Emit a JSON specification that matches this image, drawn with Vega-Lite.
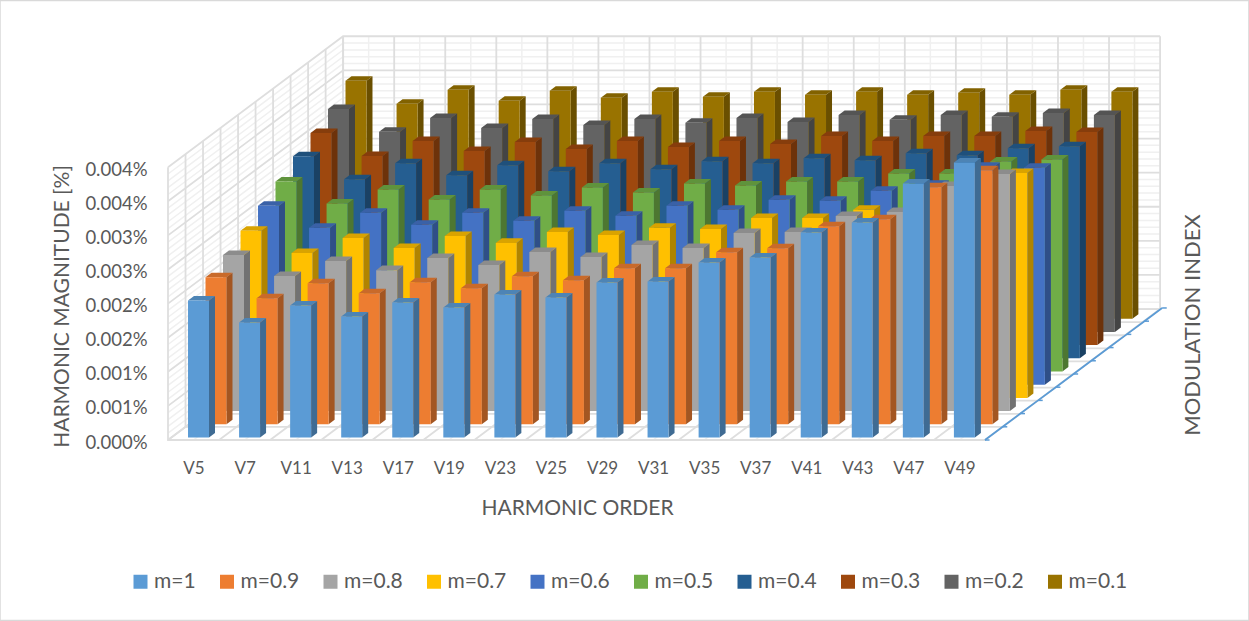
{"$schema":"https://vega.github.io/schema/vega-lite/v6.json","width":1000,"height":406,"autosize":{"type":"none"},"padding":{"left":168,"top":34,"right":81,"bottom":181},"background":"#ffffff","config":{"view":{"stroke":null},"font":"Lato"},
"datasets":{
"grid":[
{"family":"level","pos":0.0001,"weight":"minor"},{"family":"level","pos":0.0002,"weight":"minor"},{"family":"level","pos":0.0003,"weight":"minor"},{"family":"level","pos":0.0004,"weight":"minor"},{"family":"level","pos":0.0006,"weight":"minor"},{"family":"level","pos":0.0007,"weight":"minor"},{"family":"level","pos":0.0008,"weight":"minor"},{"family":"level","pos":0.0009,"weight":"minor"},{"family":"level","pos":0.0011,"weight":"minor"},{"family":"level","pos":0.0012,"weight":"minor"},{"family":"level","pos":0.0013,"weight":"minor"},{"family":"level","pos":0.0014,"weight":"minor"},{"family":"level","pos":0.0016,"weight":"minor"},{"family":"level","pos":0.0017,"weight":"minor"},{"family":"level","pos":0.0018,"weight":"minor"},{"family":"level","pos":0.0019,"weight":"minor"},{"family":"level","pos":0.0021,"weight":"minor"},{"family":"level","pos":0.0022,"weight":"minor"},{"family":"level","pos":0.0023,"weight":"minor"},{"family":"level","pos":0.0024,"weight":"minor"},{"family":"level","pos":0.0026,"weight":"minor"},{"family":"level","pos":0.0027,"weight":"minor"},{"family":"level","pos":0.0028,"weight":"minor"},{"family":"level","pos":0.0029,"weight":"minor"},{"family":"level","pos":0.0031,"weight":"minor"},{"family":"level","pos":0.0032,"weight":"minor"},{"family":"level","pos":0.0033,"weight":"minor"},{"family":"level","pos":0.0034,"weight":"minor"},{"family":"level","pos":0.0036,"weight":"minor"},{"family":"level","pos":0.0037,"weight":"minor"},{"family":"level","pos":0.0038,"weight":"minor"},{"family":"level","pos":0.0039,"weight":"minor"},
{"family":"slot","pos":0.5,"weight":"minor"},{"family":"slot","pos":1.5,"weight":"minor"},{"family":"slot","pos":2.5,"weight":"minor"},{"family":"slot","pos":3.5,"weight":"minor"},{"family":"slot","pos":4.5,"weight":"minor"},{"family":"slot","pos":5.5,"weight":"minor"},{"family":"slot","pos":6.5,"weight":"minor"},{"family":"slot","pos":7.5,"weight":"minor"},{"family":"slot","pos":8.5,"weight":"minor"},{"family":"slot","pos":9.5,"weight":"minor"},{"family":"slot","pos":10.5,"weight":"minor"},{"family":"slot","pos":11.5,"weight":"minor"},{"family":"slot","pos":12.5,"weight":"minor"},{"family":"slot","pos":13.5,"weight":"minor"},{"family":"slot","pos":14.5,"weight":"minor"},{"family":"slot","pos":15.5,"weight":"minor"},
{"family":"level","pos":0,"weight":"major"},{"family":"level","pos":0.0005,"weight":"major"},{"family":"level","pos":0.001,"weight":"major"},{"family":"level","pos":0.0015,"weight":"major"},{"family":"level","pos":0.002,"weight":"major"},{"family":"level","pos":0.0025,"weight":"major"},{"family":"level","pos":0.003,"weight":"major"},{"family":"level","pos":0.0035,"weight":"major"},{"family":"level","pos":0.004,"weight":"major"},
{"family":"slot","pos":0,"weight":"major"},{"family":"slot","pos":1,"weight":"major"},{"family":"slot","pos":2,"weight":"major"},{"family":"slot","pos":3,"weight":"major"},{"family":"slot","pos":4,"weight":"major"},{"family":"slot","pos":5,"weight":"major"},{"family":"slot","pos":6,"weight":"major"},{"family":"slot","pos":7,"weight":"major"},{"family":"slot","pos":8,"weight":"major"},{"family":"slot","pos":9,"weight":"major"},{"family":"slot","pos":10,"weight":"major"},{"family":"slot","pos":11,"weight":"major"},{"family":"slot","pos":12,"weight":"major"},{"family":"slot","pos":13,"weight":"major"},{"family":"slot","pos":14,"weight":"major"},{"family":"slot","pos":15,"weight":"major"},{"family":"slot","pos":16,"weight":"major"},
{"family":"depth","pos":0,"weight":"major"},{"family":"depth","pos":1,"weight":"major"},{"family":"depth","pos":2,"weight":"major"},{"family":"depth","pos":3,"weight":"major"},{"family":"depth","pos":4,"weight":"major"},{"family":"depth","pos":5,"weight":"major"},{"family":"depth","pos":6,"weight":"major"},{"family":"depth","pos":7,"weight":"major"},{"family":"depth","pos":8,"weight":"major"},{"family":"depth","pos":9,"weight":"major"},{"family":"depth","pos":10,"weight":"major"}],
"depths":[{"k":0},{"k":1},{"k":2},{"k":3},{"k":4},{"k":5},{"k":6},{"k":7},{"k":8},{"k":9},{"k":10}],
"bars":[
{"harmonic":"V5","series":"m=0.1","value":0.00349},{"harmonic":"V7","series":"m=0.1","value":0.003153},{"harmonic":"V11","series":"m=0.1","value":0.003358},{"harmonic":"V13","series":"m=0.1","value":0.003197},{"harmonic":"V17","series":"m=0.1","value":0.003343},{"harmonic":"V19","series":"m=0.1","value":0.003241},{"harmonic":"V23","series":"m=0.1","value":0.003329},{"harmonic":"V25","series":"m=0.1","value":0.003255},{"harmonic":"V29","series":"m=0.1","value":0.003329},{"harmonic":"V31","series":"m=0.1","value":0.003285},{"harmonic":"V35","series":"m=0.1","value":0.003329},{"harmonic":"V37","series":"m=0.1","value":0.003285},{"harmonic":"V41","series":"m=0.1","value":0.003314},{"harmonic":"V43","series":"m=0.1","value":0.003285},{"harmonic":"V47","series":"m=0.1","value":0.003358},{"harmonic":"V49","series":"m=0.1","value":0.003329},
{"harmonic":"V5","series":"m=0.2","value":0.00327},{"harmonic":"V7","series":"m=0.2","value":0.002933},{"harmonic":"V11","series":"m=0.2","value":0.003138},{"harmonic":"V13","series":"m=0.2","value":0.002991},{"harmonic":"V17","series":"m=0.2","value":0.003123},{"harmonic":"V19","series":"m=0.2","value":0.003035},{"harmonic":"V23","series":"m=0.2","value":0.003123},{"harmonic":"V25","series":"m=0.2","value":0.003065},{"harmonic":"V29","series":"m=0.2","value":0.003138},{"harmonic":"V31","series":"m=0.2","value":0.003079},{"harmonic":"V35","series":"m=0.2","value":0.003182},{"harmonic":"V37","series":"m=0.2","value":0.003109},{"harmonic":"V41","series":"m=0.2","value":0.003182},{"harmonic":"V43","series":"m=0.2","value":0.003153},{"harmonic":"V47","series":"m=0.2","value":0.003211},{"harmonic":"V49","series":"m=0.2","value":0.003182},
{"harmonic":"V5","series":"m=0.3","value":0.003109},{"harmonic":"V7","series":"m=0.3","value":0.002771},{"harmonic":"V11","series":"m=0.3","value":0.002991},{"harmonic":"V13","series":"m=0.3","value":0.002845},{"harmonic":"V17","series":"m=0.3","value":0.002977},{"harmonic":"V19","series":"m=0.3","value":0.002874},{"harmonic":"V23","series":"m=0.3","value":0.002991},{"harmonic":"V25","series":"m=0.3","value":0.002903},{"harmonic":"V29","series":"m=0.3","value":0.002991},{"harmonic":"V31","series":"m=0.3","value":0.002947},{"harmonic":"V35","series":"m=0.3","value":0.003065},{"harmonic":"V37","series":"m=0.3","value":0.002991},{"harmonic":"V41","series":"m=0.3","value":0.003065},{"harmonic":"V43","series":"m=0.3","value":0.003065},{"harmonic":"V47","series":"m=0.3","value":0.003138},{"harmonic":"V49","series":"m=0.3","value":0.003123},
{"harmonic":"V5","series":"m=0.4","value":0.002962},{"harmonic":"V7","series":"m=0.4","value":0.002625},{"harmonic":"V11","series":"m=0.4","value":0.002859},{"harmonic":"V13","series":"m=0.4","value":0.002683},{"harmonic":"V17","series":"m=0.4","value":0.00283},{"harmonic":"V19","series":"m=0.4","value":0.002742},{"harmonic":"V23","series":"m=0.4","value":0.002859},{"harmonic":"V25","series":"m=0.4","value":0.002771},{"harmonic":"V29","series":"m=0.4","value":0.002889},{"harmonic":"V31","series":"m=0.4","value":0.002859},{"harmonic":"V35","series":"m=0.4","value":0.002933},{"harmonic":"V37","series":"m=0.4","value":0.002903},{"harmonic":"V41","series":"m=0.4","value":0.003006},{"harmonic":"V43","series":"m=0.4","value":0.002977},{"harmonic":"V47","series":"m=0.4","value":0.003079},{"harmonic":"V49","series":"m=0.4","value":0.003109},
{"harmonic":"V5","series":"m=0.5","value":0.002786},{"harmonic":"V7","series":"m=0.5","value":0.002463},{"harmonic":"V11","series":"m=0.5","value":0.002669},{"harmonic":"V13","series":"m=0.5","value":0.002522},{"harmonic":"V17","series":"m=0.5","value":0.002669},{"harmonic":"V19","series":"m=0.5","value":0.002581},{"harmonic":"V23","series":"m=0.5","value":0.002698},{"harmonic":"V25","series":"m=0.5","value":0.002625},{"harmonic":"V29","series":"m=0.5","value":0.002757},{"harmonic":"V31","series":"m=0.5","value":0.002727},{"harmonic":"V35","series":"m=0.5","value":0.002786},{"harmonic":"V37","series":"m=0.5","value":0.002786},{"harmonic":"V41","series":"m=0.5","value":0.002903},{"harmonic":"V43","series":"m=0.5","value":0.002903},{"harmonic":"V47","series":"m=0.5","value":0.003079},{"harmonic":"V49","series":"m=0.5","value":0.003109},
{"harmonic":"V5","series":"m=0.6","value":0.002625},{"harmonic":"V7","series":"m=0.6","value":0.002302},{"harmonic":"V11","series":"m=0.6","value":0.002522},{"harmonic":"V13","series":"m=0.6","value":0.002346},{"harmonic":"V17","series":"m=0.6","value":0.002522},{"harmonic":"V19","series":"m=0.6","value":0.002405},{"harmonic":"V23","series":"m=0.6","value":0.002551},{"harmonic":"V25","series":"m=0.6","value":0.002478},{"harmonic":"V29","series":"m=0.6","value":0.002625},{"harmonic":"V31","series":"m=0.6","value":0.002566},{"harmonic":"V35","series":"m=0.6","value":0.002713},{"harmonic":"V37","series":"m=0.6","value":0.002698},{"harmonic":"V41","series":"m=0.6","value":0.002845},{"harmonic":"V43","series":"m=0.6","value":0.002933},{"harmonic":"V47","series":"m=0.6","value":0.003197},{"harmonic":"V49","series":"m=0.6","value":0.003182},
{"harmonic":"V5","series":"m=0.7","value":0.002449},{"harmonic":"V7","series":"m=0.7","value":0.002126},{"harmonic":"V11","series":"m=0.7","value":0.002346},{"harmonic":"V13","series":"m=0.7","value":0.002199},{"harmonic":"V17","series":"m=0.7","value":0.002375},{"harmonic":"V19","series":"m=0.7","value":0.002273},{"harmonic":"V23","series":"m=0.7","value":0.002434},{"harmonic":"V25","series":"m=0.7","value":0.00239},{"harmonic":"V29","series":"m=0.7","value":0.002493},{"harmonic":"V31","series":"m=0.7","value":0.002478},{"harmonic":"V35","series":"m=0.7","value":0.002639},{"harmonic":"V37","series":"m=0.7","value":0.002639},{"harmonic":"V41","series":"m=0.7","value":0.002757},{"harmonic":"V43","series":"m=0.7","value":0.002859},{"harmonic":"V47","series":"m=0.7","value":0.003255},{"harmonic":"V49","series":"m=0.7","value":0.003299},
{"harmonic":"V5","series":"m=0.8","value":0.002287},{"harmonic":"V7","series":"m=0.8","value":0.00198},{"harmonic":"V11","series":"m=0.8","value":0.002199},{"harmonic":"V13","series":"m=0.8","value":0.002067},{"harmonic":"V17","series":"m=0.8","value":0.002243},{"harmonic":"V19","series":"m=0.8","value":0.002141},{"harmonic":"V23","series":"m=0.8","value":0.002331},{"harmonic":"V25","series":"m=0.8","value":0.002258},{"harmonic":"V29","series":"m=0.8","value":0.002434},{"harmonic":"V31","series":"m=0.8","value":0.00239},{"harmonic":"V35","series":"m=0.8","value":0.00261},{"harmonic":"V37","series":"m=0.8","value":0.002625},{"harmonic":"V41","series":"m=0.8","value":0.002859},{"harmonic":"V43","series":"m=0.8","value":0.002918},{"harmonic":"V47","series":"m=0.8","value":0.003299},{"harmonic":"V49","series":"m=0.8","value":0.003475},
{"harmonic":"V5","series":"m=0.9","value":0.002155},{"harmonic":"V7","series":"m=0.9","value":0.001848},{"harmonic":"V11","series":"m=0.9","value":0.002067},{"harmonic":"V13","series":"m=0.9","value":0.001921},{"harmonic":"V17","series":"m=0.9","value":0.002082},{"harmonic":"V19","series":"m=0.9","value":0.001994},{"harmonic":"V23","series":"m=0.9","value":0.00217},{"harmonic":"V25","series":"m=0.9","value":0.002111},{"harmonic":"V29","series":"m=0.9","value":0.002287},{"harmonic":"V31","series":"m=0.9","value":0.002287},{"harmonic":"V35","series":"m=0.9","value":0.002522},{"harmonic":"V37","series":"m=0.9","value":0.002581},{"harmonic":"V41","series":"m=0.9","value":0.002903},{"harmonic":"V43","series":"m=0.9","value":0.003006},{"harmonic":"V47","series":"m=0.9","value":0.003475},{"harmonic":"V49","series":"m=0.9","value":0.003724},
{"harmonic":"V5","series":"m=1","value":0.002009},{"harmonic":"V7","series":"m=1","value":0.001686},{"harmonic":"V11","series":"m=1","value":0.001936},{"harmonic":"V13","series":"m=1","value":0.001774},{"harmonic":"V17","series":"m=1","value":0.00198},{"harmonic":"V19","series":"m=1","value":0.001906},{"harmonic":"V23","series":"m=1","value":0.002097},{"harmonic":"V25","series":"m=1","value":0.002053},{"harmonic":"V29","series":"m=1","value":0.002273},{"harmonic":"V31","series":"m=1","value":0.002287},{"harmonic":"V35","series":"m=1","value":0.002566},{"harmonic":"V37","series":"m=1","value":0.002639},{"harmonic":"V41","series":"m=1","value":0.003006},{"harmonic":"V43","series":"m=1","value":0.003153},{"harmonic":"V47","series":"m=1","value":0.003724},{"harmonic":"V49","series":"m=1","value":0.004032}
]},
"encoding":{
"x":{"field":"px","type":"quantitative","scale":{"domain":[0,19.585],"nice":false,"zero":false},
"axis":{"zindex":1,"title":"HARMONIC  ORDER","titleFont":"Lato","titleFontSize":21,"titleFontWeight":"normal","titleColor":"#595959","titleX":409,"titleY":68,"titleBaseline":"middle","values":[0.5,1.5,2.5,3.5,4.5,5.5,6.5,7.5,8.5,9.5,10.5,11.5,12.5,13.5,14.5,15.5],"labelExpr":"['V5','V7','V11','V13','V17','V19','V23','V25','V29','V31','V35','V37','V41','V43','V47','V49'][floor(datum.value)]","labelFont":"Lato","labelFontSize":17,"labelColor":"#595959","labelPadding":20,"labelOverlap":false,"labelAngle":0,"ticks":false,"domain":false,"grid":false}},
"y":{"field":"py","type":"quantitative","scale":{"domain":[0,0.005953],"nice":false,"zero":false},
"axis":{"zindex":1,"title":"HARMONIC  MAGNITUDE  [%]","titleFont":"Lato","titleFontSize":21,"titleFontWeight":"normal","titleColor":"#595959","titleX":-106,"titleY":272,"titleBaseline":"middle","values":[0,0.0005,0.001,0.0015,0.002,0.0025,0.003,0.0035,0.004],"labelExpr":"format(datum.value,'.3f')+'%'","labelFont":"Lato","labelFontSize":18.5,"labelColor":"#595959","labelPadding":21,"labelOffset":2,"labelOverlap":false,"ticks":false,"domain":false,"grid":false}}},
"layer":[
{"data":{"values":[{"px":-3.29,"px2":21.17,"py":-0.002647,"py2":0.006444}]},
"mark":{"type":"rect","fill":"transparent","stroke":"#d9d9d9","strokeWidth":1.5,"clip":false},
"encoding":{"x2":{"field":"px2"},"y2":{"field":"py2"}}},
{"data":{"name":"grid"},
"transform":[{"calculate":"[0,1,2]","as":"v"},{"flatten":["v"]},
{"calculate":"datum.family=='level'?[0,3.43,19.43][datum.v]:datum.family=='slot'?[datum.pos,datum.pos+3.43,datum.pos+3.43][datum.v]:[datum.pos*0.343+16,datum.pos*0.343,datum.pos*0.343][datum.v]","as":"px"},
{"calculate":"datum.family=='level'?[datum.pos,datum.pos+0.00192,datum.pos+0.00192][datum.v]:datum.family=='slot'?[0,0.00192,0.00592][datum.v]:[datum.pos*0.000192,datum.pos*0.000192,datum.pos*0.000192+0.004][datum.v]","as":"py"}],
"mark":{"type":"line","interpolate":"linear","clip":false},
"encoding":{
"detail":[{"field":"family"},{"field":"pos"}],
"order":{"field":"v","type":"quantitative"},
"stroke":{"condition":{"test":"datum.weight=='major'","value":"#dedede"},"value":"#f0f0f0"},
"strokeWidth":{"condition":{"test":"datum.weight=='major'","value":1.8},"value":1.5}}},
{"data":{"name":"bars"},
"transform":[
{"calculate":"indexof(['m=1','m=0.9','m=0.8','m=0.7','m=0.6','m=0.5','m=0.4','m=0.3','m=0.2','m=0.1'],datum.series)","as":"d"},
{"calculate":"indexof(['V5','V7','V11','V13','V17','V19','V23','V25','V29','V31','V35','V37','V41','V43','V47','V49'],datum.harmonic)","as":"i"},
{"calculate":"['side','top','front']","as":"face"},{"flatten":["face"]},
{"calculate":"[0,1,2,3]","as":"v"},{"flatten":["v"]},
{"calculate":"0.392+datum.i+datum.d*0.3427","as":"xl"},
{"calculate":"0.0000367+datum.d*0.00019355","as":"base"},
{"calculate":"datum.base+datum.value","as":"tp"},
{"calculate":"datum.face=='front'?[datum.xl,datum.xl+0.411,datum.xl+0.411,datum.xl][datum.v]:datum.face=='side'?[datum.xl+0.411,datum.xl+0.5285,datum.xl+0.5285,datum.xl+0.411][datum.v]:[datum.xl,datum.xl+0.411,datum.xl+0.5285,datum.xl+0.1175][datum.v]","as":"px"},
{"calculate":"datum.face=='front'?[datum.base,datum.base,datum.tp,datum.tp][datum.v]:datum.face=='side'?[datum.base,datum.base+0.000066,datum.tp+0.000066,datum.tp][datum.v]:[datum.tp,datum.tp,datum.tp+0.000066,datum.tp+0.000066][datum.v]","as":"py"},
{"calculate":"datum.face=='front'?datum.series:datum.series+' '+datum.face","as":"shade"}],
"mark":{"type":"line","filled":true,"interpolate":"linear","clip":false},
"encoding":{
"detail":[{"field":"series"},{"field":"harmonic"},{"field":"face"}],
"order":{"field":"v","type":"quantitative"},
"color":{"field":"shade","type":"nominal","scale":{
"domain":["m=1","m=0.9","m=0.8","m=0.7","m=0.6","m=0.5","m=0.4","m=0.3","m=0.2","m=0.1","m=1 top","m=0.9 top","m=0.8 top","m=0.7 top","m=0.6 top","m=0.5 top","m=0.4 top","m=0.3 top","m=0.2 top","m=0.1 top","m=1 side","m=0.9 side","m=0.8 side","m=0.7 side","m=0.6 side","m=0.5 side","m=0.4 side","m=0.3 side","m=0.2 side","m=0.1 side"],
"range":["#5B9BD5","#ED7D31","#A5A5A5","#FFC000","#4472C4","#70AD47","#255E91","#9E480E","#636363","#997300","#4D84B5","#C96A2A","#8C8C8C","#D9A300","#3A61A7","#5F933C","#1F507B","#863D0C","#545454","#826200","#3F6B93","#A35622","#727272","#B08400","#2F4F87","#4D7731","#1A4164","#6D320A","#444444","#6A4F00"]},
"legend":{"title":null,"orient":"none","legendX":-38,"legendY":537,"direction":"horizontal","columns":10,"gridAlign":"each","columnPadding":20.5,"values":["m=1","m=0.9","m=0.8","m=0.7","m=0.6","m=0.5","m=0.4","m=0.3","m=0.2","m=0.1"],"symbolType":"square","symbolSize":196,"symbolStrokeWidth":0,"labelFont":"Lato","labelFontSize":21,"labelColor":"#595959","labelOffset":3,"labelLimit":200}}}},
{"data":{"name":"depths"},
"mark":{"type":"rule","color":"#5B9BD5","strokeWidth":1.5,"clip":false},
"transform":[{"calculate":"16+datum.k*0.347","as":"px"},{"calculate":"datum.px+0.09","as":"px2"},{"calculate":"datum.k*0.0001936","as":"py"}],
"encoding":{"x2":{"field":"px2"}}},
{"data":{"name":"depths"},
"mark":{"type":"line","color":"#5B9BD5","strokeWidth":1.8,"clip":false},
"transform":[{"calculate":"16+datum.k*0.347","as":"px"},{"calculate":"datum.k*0.0001936","as":"py"}],
"encoding":{}},
{"data":{"values":[{"label":"MODULATION  INDEX","px":20.07,"py":0.001686}]},
"mark":{"type":"text","angle":270,"font":"Lato","fontSize":22,"color":"#595959","align":"center","baseline":"middle","clip":false},
"encoding":{"text":{"field":"label"}}}
]}
